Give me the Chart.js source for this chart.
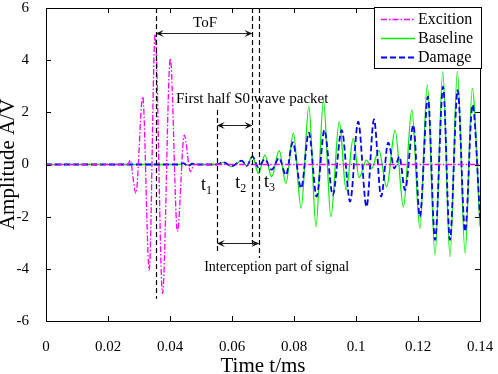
<!DOCTYPE html>
<html>
<head>
<meta charset="utf-8">
<script src="https://cdn.jsdelivr.net/npm/chart.js@4.4.1/dist/chart.umd.min.js"></script>
<style>
  html, body { margin: 0; padding: 0; background: #fff; }
  #wrap { width: 498px; height: 374px; }
</style>
</head>
<body>
<div id="wrap"><canvas id="chart" width="498" height="374"></canvas></div>
<script>
// x ticks / y ticks
const xTicks = [0, 0.02, 0.04, 0.06, 0.08, 0.1, 0.12, 0.14];
const xTickLabels = ['0', '0.02', '0.04', '0.06', '0.08', '0.1', '0.12', '0.14'];
const yTicks = [-6, -4, -2, 0, 2, 4, 6];
const yTickLabels = ['-6', '-4', '-2', '0', '2', '4', '6'];

// excitation signal (peaks / troughs)
const excT = [0, 0.0265, 0.0271, 0.0290, 0.0312, 0.0333, 0.0352, 0.0376, 0.0401, 0.0424, 0.0446, 0.0466, 0.0478, 0.14];
const excA = [0, 0, 0.17, -1.1, 2.6, -4.05, 5.0, -4.95, 4.07, -2.57, 1.13, -0.27, 0, 0];

// baseline response
const baseT = [0, 0.043, 0.0445, 0.046, 0.0475, 0.055, 0.0572, 0.0599, 0.0631, 0.0648, 0.0666, 0.0685, 0.0706, 0.0728,
  0.0752, 0.0774, 0.0798, 0.0823, 0.0848, 0.0871, 0.0895, 0.0919, 0.0946, 0.0968, 0.0991, 0.1010, 0.1034, 0.1050,
  0.1074, 0.1099, 0.1126, 0.1153, 0.1180, 0.1206, 0.1230, 0.1255, 0.1280, 0.1303, 0.1327, 0.1352, 0.1375, 0.14];
const baseA = [0, 0, 0.03, -0.03, 0, 0, 0.08, -0.08, 0.15, -0.05, 0.33, -0.34, 0.36, -0.47,
  0.53, -0.72, 1.2, -1.68, 2.24, -2.38, 2.47, -2.0, 1.64, -0.98, 1.0, -0.5, 0.17, -0.15,
  0.53, -0.85, 1.32, -1.62, 2.09, -2.45, 3.05, -3.47, 3.56, -3.53, 3.56, -3.4, 2.92, -2.38];

// damage response
const dmgT = [0, 0.043, 0.0443, 0.0458, 0.0472, 0.0485, 0.055, 0.0572, 0.0599, 0.0631, 0.0648, 0.0666, 0.0685, 0.0706,
  0.0728, 0.0752, 0.0774, 0.0796, 0.0823, 0.0848, 0.0873, 0.0898, 0.0925, 0.0954, 0.0981, 0.1007, 0.1034, 0.1058,
  0.1081, 0.1104, 0.1124, 0.1140, 0.1158, 0.1185, 0.1206, 0.1232, 0.1255, 0.1281, 0.1303, 0.1328, 0.1352, 0.1376, 0.14];
const dmgA = [0, 0, 0.05, -0.06, 0.03, 0, 0, 0.08, -0.06, 0.15, -0.05, 0.3, -0.1, 0.2,
  -0.2, 0.25, -0.4, 0.85, -0.91, 1.22, -1.23, 1.32, -1.17, 1.32, -1.42, 1.64, -1.62, 1.73,
  -1.23, 0.84, -0.15, 0.3, -0.98, 1.51, -2.0, 2.6, -2.89, 2.98, -2.89, 2.85, -2.57, 2.28, -2.0];

// marker lines: time, top amplitude, bottom amplitude
const markT = [0.0354, 0.0551, 0.0666, 0.0688];
const markTop = [6, 2.09, 6, 6];
const markBottom = [-5.15, -3.39, -3.08, -3.58];

// double arrows: from, to, amplitude
const arrowFrom = [0.0354, 0.0551, 0.0551];
const arrowTo = [0.0666, 0.0666, 0.0688];
const arrowAmp = [5.05, 1.51, -3.02];

const labels = ['ToF', 'First half S0 wave packet', 'Interception part of signal'];
const labelT = [0.0513, 0.0665, 0.0744];
const labelA = [5.42, 2.51, -3.93];

const tNames = ['1', '2', '3'];
const tLabelT = [0.0513, 0.0623, 0.0716];
const tLabelA = [-0.79, -0.72, -0.67];

const seriesNames = ['Excition', 'Baseline', 'Damage'];

const toPoints = (ts, as) => ts.map((t, i) => ({ x: t, y: as[i] }));
const serif = 'Liberation Serif, Times New Roman, serif';

function arrowHead(ctx, x, y, dir) {
  const L = 8, W = 3.5;
  ctx.beginPath();
  ctx.moveTo(x, y);
  ctx.lineTo(x - dir * L, y - W);
  ctx.lineTo(x - dir * L * 0.6, y);
  ctx.lineTo(x - dir * L, y + W);
  ctx.closePath();
  ctx.fill();
}

// scales should not push the plot area around
function noPad(s) {
  s.paddingTop = 0; s.paddingBottom = 0; s.paddingLeft = 0; s.paddingRight = 0;
}

const annotations = {
  id: 'annotations',
  afterDatasetsDraw(chart) {
    const { ctx, scales: { x, y } } = chart;
    ctx.save();
    ctx.strokeStyle = '#000';
    ctx.lineWidth = 1.2;
    ctx.setLineDash([5, 3]);
    markT.forEach((t, i) => {
      const px = Math.round(x.getPixelForValue(t)) + 0.5;
      ctx.beginPath();
      ctx.moveTo(px, y.getPixelForValue(markTop[i]));
      ctx.lineTo(px, y.getPixelForValue(markBottom[i]));
      ctx.stroke();
    });
    ctx.setLineDash([]);
    ctx.strokeStyle = '#222';
    ctx.fillStyle = '#111';
    ctx.lineWidth = 1;
    arrowFrom.forEach((t, i) => {
      const x1 = x.getPixelForValue(t), x2 = x.getPixelForValue(arrowTo[i]);
      const py = Math.round(y.getPixelForValue(arrowAmp[i])) + 0.5;
      ctx.beginPath();
      ctx.moveTo(x1 + 4, py);
      ctx.lineTo(x2 - 4, py);
      ctx.stroke();
      arrowHead(ctx, x1, py, -1);
      arrowHead(ctx, x2, py, 1);
    });
    ctx.fillStyle = '#000';
    ctx.textAlign = 'center';
    ctx.textBaseline = 'middle';
    const sizes = [15, 15, 14];
    labels.forEach((s, i) => {
      ctx.font = sizes[i] + 'px ' + serif;
      ctx.fillText(s, x.getPixelForValue(labelT[i]), y.getPixelForValue(labelA[i]));
    });
    tNames.forEach((n, i) => {
      const px = x.getPixelForValue(tLabelT[i]), py = y.getPixelForValue(tLabelA[i]);
      ctx.font = '18px ' + serif;
      ctx.textAlign = 'left';
      ctx.fillText('t', px - 4, py);
      ctx.font = '12px ' + serif;
      ctx.fillText(n, px + 1, py + 6);
    });
    ctx.restore();
  },
  afterDraw(chart) {
    const { ctx, chartArea: a, scales: { x, y } } = chart;
    ctx.save();
    // frame with inward ticks
    ctx.strokeStyle = '#000';
    ctx.lineWidth = 1;
    ctx.strokeRect(Math.round(a.left) + 0.5, Math.round(a.top) + 0.5,
      Math.round(a.right - a.left), Math.round(a.bottom - a.top));
    const tl = 5;
    ctx.beginPath();
    xTicks.forEach(v => {
      const px = Math.round(x.getPixelForValue(v)) + 0.5;
      ctx.moveTo(px, a.bottom); ctx.lineTo(px, a.bottom - tl);
      ctx.moveTo(px, a.top); ctx.lineTo(px, a.top + tl);
    });
    yTicks.forEach(v => {
      const py = Math.round(y.getPixelForValue(v)) + 0.5;
      ctx.moveTo(a.left, py); ctx.lineTo(a.left + tl, py);
      ctx.moveTo(a.right, py); ctx.lineTo(a.right - tl, py);
    });
    ctx.stroke();

    // legend box
    const bx = 374.5, by = 7.5, bw = 107, bh = 61;
    ctx.fillStyle = '#fff';
    ctx.fillRect(bx, by, bw, bh);
    ctx.strokeRect(bx, by, bw, bh);
    ctx.font = '16px ' + serif;
    ctx.textAlign = 'left';
    ctx.textBaseline = 'middle';
    chart.data.datasets.forEach((ds, i) => {
      const ly = by + 12 + i * 19;
      ctx.strokeStyle = ds.borderColor;
      ctx.lineWidth = ds.borderWidth;
      ctx.setLineDash(ds.borderDash || []);
      ctx.beginPath();
      ctx.moveTo(381, ly);
      ctx.lineTo(415, ly);
      ctx.stroke();
      ctx.setLineDash([]);
      ctx.fillStyle = '#000';
      ctx.fillText(seriesNames[i], 418, ly);
    });
    ctx.restore();
  }
};

new Chart(document.getElementById('chart'), {
  type: 'line',
  data: {
    datasets: [
      {
        label: seriesNames[0],
        data: toPoints(excT, excA),
        borderColor: '#ff00ff',
        borderWidth: 1.3,
        borderDash: [6, 2, 1.5, 2],
        order: 0
      },
      {
        label: seriesNames[1],
        data: toPoints(baseT, baseA),
        borderColor: '#00ee00',
        borderWidth: 1.3,
        order: 2
      },
      {
        label: seriesNames[2],
        data: toPoints(dmgT, dmgA),
        borderColor: '#0000ff',
        borderWidth: 1.8,
        borderDash: [6, 3],
        order: 1
      }
    ]
  },
  options: {
    responsive: false,
    animation: false,
    events: [],
    elements: {
      point: { radius: 0 },
      line: { cubicInterpolationMode: 'monotone', fill: false }
    },
    layout: { padding: { top: 8, right: 18, left: 0, bottom: 0 } },
    plugins: { legend: { display: false }, tooltip: { enabled: false } },
    scales: {
      x: {
        type: 'linear',
        min: 0,
        max: 0.14,
        afterBuildTicks: s => { s.ticks = xTicks.map(v => ({ value: v })); },
        afterFit: s => { s.height = 53; noPad(s); },
        grid: { display: false },
        border: { display: false },
        ticks: {
          autoSkip: false,
          maxRotation: 0,
          padding: 9,
          color: '#000',
          font: { family: serif, size: 15 },
          callback: (v, i) => xTickLabels[i]
        },
        title: {
          display: true,
          text: 'Time t/ms',
          color: '#000',
          font: { family: serif, size: 21, lineHeight: 1 },
          padding: { top: 0, bottom: -3 }
        }
      },
      y: {
        min: -6,
        max: 6,
        afterBuildTicks: s => { s.ticks = yTicks.map(v => ({ value: v })); },
        afterFit: s => { s.width = 46; noPad(s); },
        grid: { display: false },
        border: { display: false },
        ticks: {
          autoSkip: false,
          padding: 9,
          color: '#000',
          font: { family: serif, size: 15 },
          callback: (v, i) => yTickLabels[i]
        },
        title: {
          display: true,
          text: 'Amplitude A/V',
          color: '#000',
          font: { family: serif, size: 21, lineHeight: 1 },
          padding: { top: -2, bottom: 0 }
        }
      }
    }
  },
  plugins: [annotations]
});
</script>
</body>
</html>
